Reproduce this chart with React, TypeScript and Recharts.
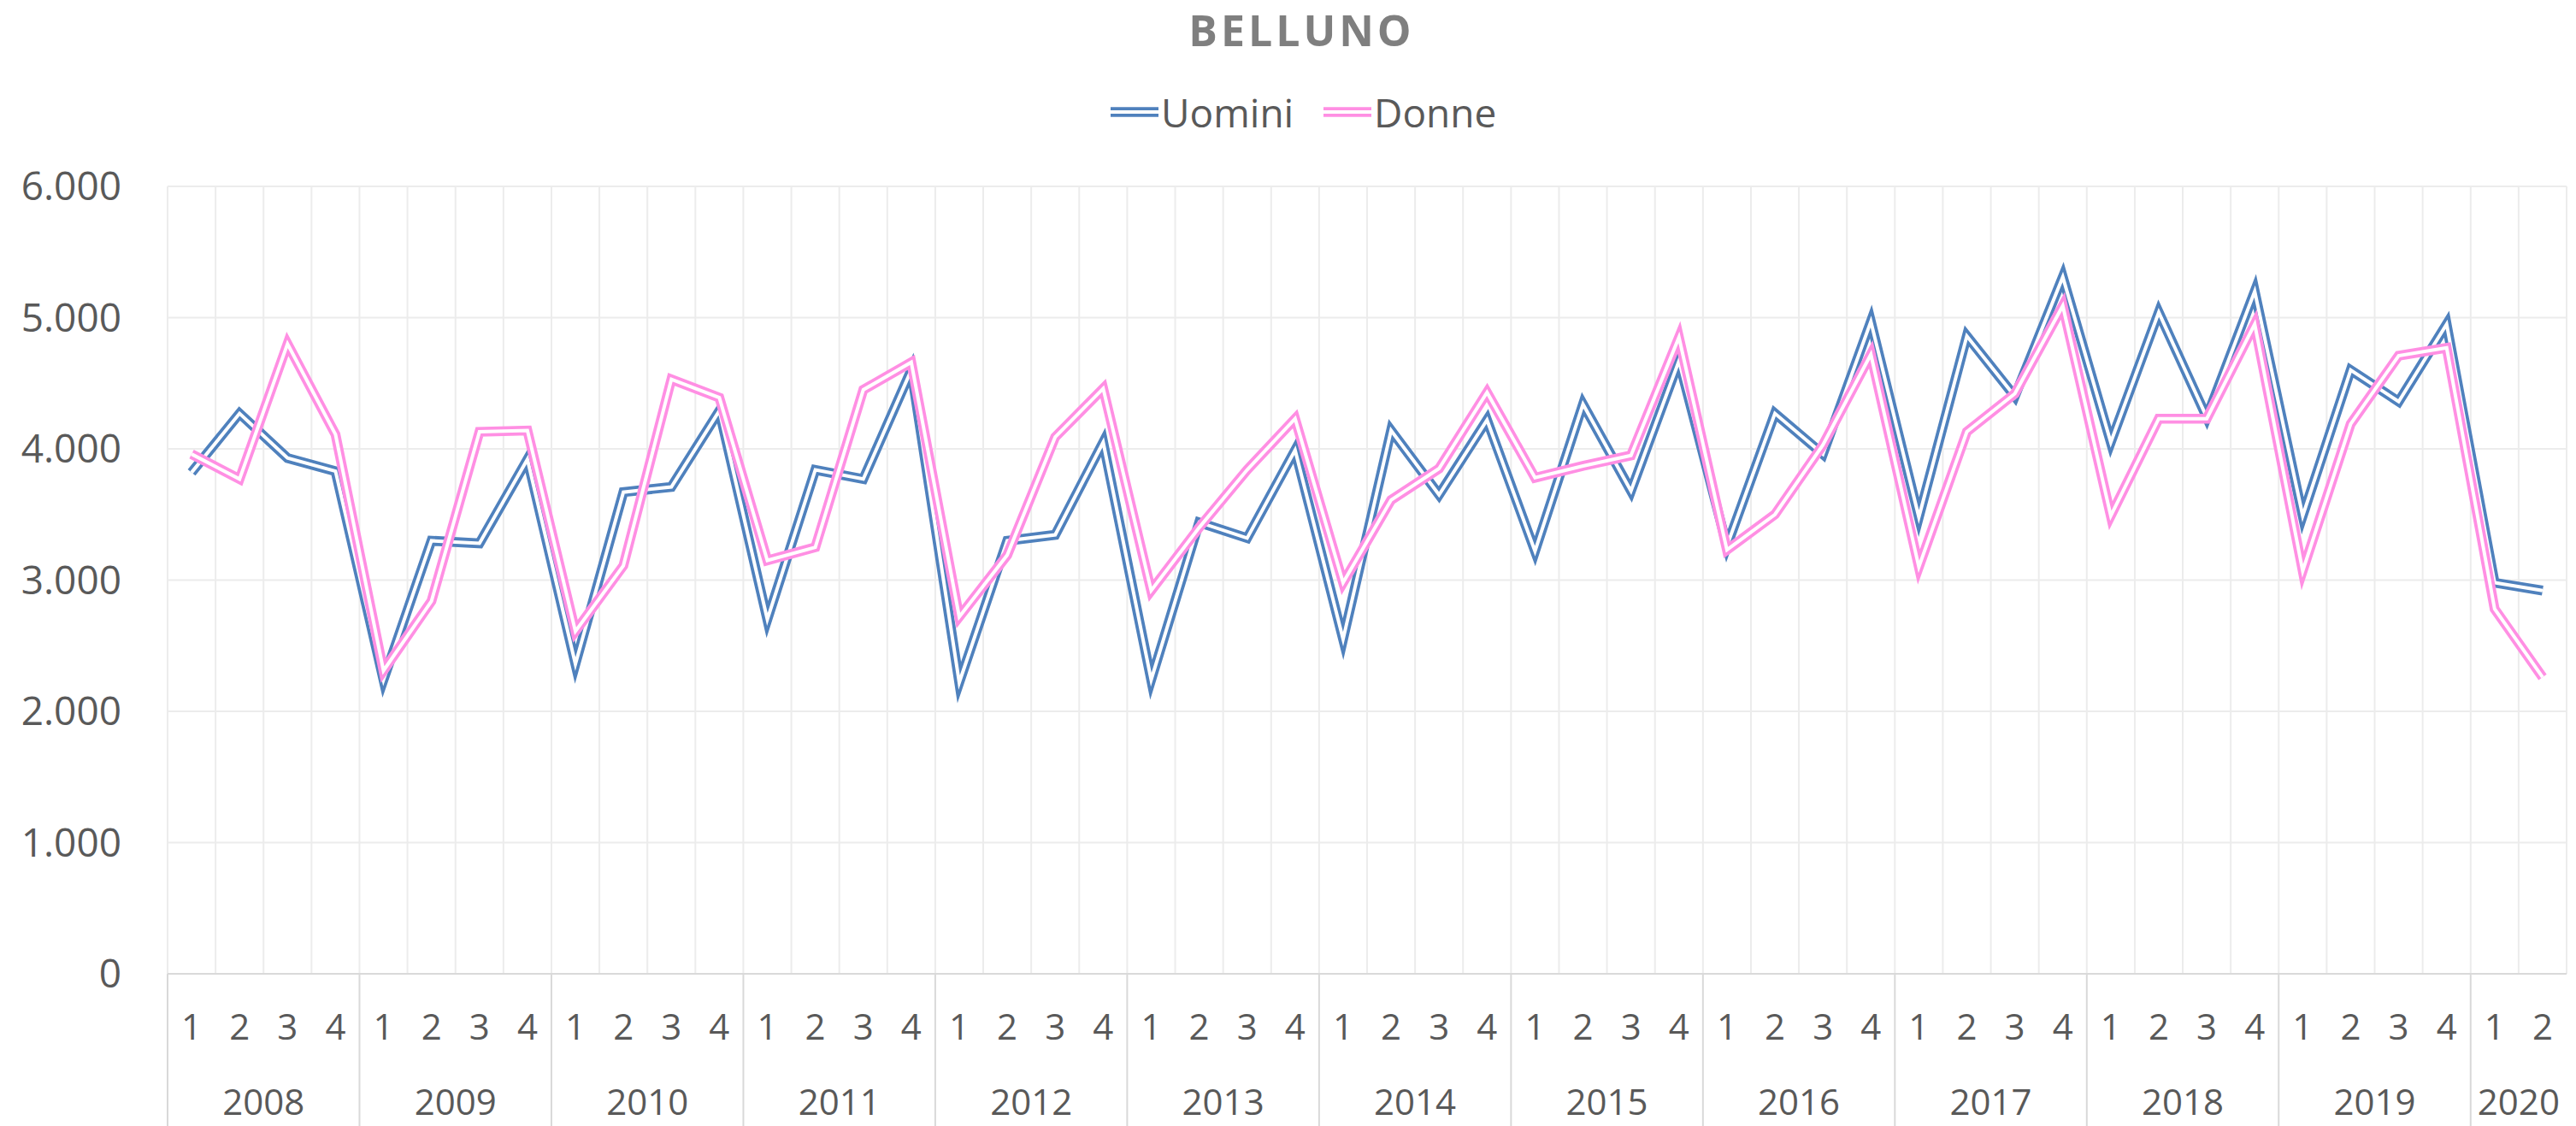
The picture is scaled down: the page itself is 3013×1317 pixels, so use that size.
import { CartesianGrid, Line, LineChart, XAxis, YAxis } from "recharts";

const W = 3013;
const H = 1317;
const PLOT_LEFT = 196;
const PLOT_RIGHT = 3002;
const PLOT_TOP = 218;
const PLOT_BOTTOM = 1139;

const BLUE = "#4f81bd";
const PINK = "#ff8fe3";
const INK = "#595959";
const GRID = "#ececec";
const SEP = "#d9d9d9";
const FONT = "'Open Sans', sans-serif";

// line doppia stile Excel: tratto largo colorato + tratto bianco al centro
const OUTER = 11.5;
const INNER = 4;

const years = ["2008", "2009", "2010", "2011", "2012", "2013", "2014", "2015", "2016", "2017", "2018", "2019", "2020"];
const quartersPerYear = [4, 4, 4, 4, 4, 4, 4, 4, 4, 4, 4, 4, 2];

const uomini = [
  3820, 4270, 3930, 3830, 2240, 3300, 3280, 3920, 2360, 3670, 3710, 4290, 2700, 3840, 3770, 4600,
  2220, 3300, 3345, 4050, 2240, 3440, 3320, 3990, 2550, 4140, 3650, 4220, 3220, 4340, 3680, 4670,
  3260, 4270, 3960, 4970, 3480, 4860, 4400, 5310, 4050, 5040, 4240, 5200, 3490, 4600, 4360, 4950,
  2980, 2920,
];
const donne = [
  3960, 3770, 4800, 4110, 2310, 2840, 4130, 4140, 2610, 3110, 4530, 4390, 3150, 3250, 4450, 4660,
  2720, 3190, 4090, 4460, 2920, 3400, 3840, 4230, 2980, 3610, 3850, 4430, 3780, 3870, 3950, 4850,
  3230, 3500, 4030, 4720, 3100, 4130, 4420, 5090, 3490, 4230, 4230, 4950, 3070, 4190, 4710, 4770,
  2780, 2260,
];
const yTicks = [0, 1000, 2000, 3000, 4000, 5000, 6000];

const data = years.flatMap((year, yi) =>
  Array.from({ length: quartersPerYear[yi] }, (_, q) => ({ key: `${year}-${q + 1}` }))
).map((d, i) => ({ ...d, uomini: uomini[i], donne: donne[i] }));

const STEP = (PLOT_RIGHT - PLOT_LEFT) / data.length;

function fmt(v: number) {
  return String(v).replace(/\B(?=(\d{3})+(?!\d))/g, ".");
}

function CategoryTick({ x, y, payload }: { x: number; y: number; payload: { value: string } }) {
  const [year, q] = payload.value.split("-");
  const n = quartersPerYear[years.indexOf(year)];
  const left = x - STEP / 2;
  return (
    <g>
      <text x={x} y={y + 77} textAnchor="middle" fill={INK} fontSize={42} fontFamily={FONT}>
        {q}
      </text>
      {q === "1" && (
        <>
          <line x1={left} x2={left} y1={y} y2={H} stroke={SEP} strokeWidth={2} />
          <text x={left + (n * STEP) / 2} y={y + 165} textAnchor="middle" fill={INK} fontSize={42} fontFamily={FONT}>
            {year}
          </text>
        </>
      )}
    </g>
  );
}

function LegendIcon({ color }: { color: string }) {
  return (
    <svg width={56} height={20} style={{ display: "block" }}>
      <line x1={0} x2={56} y1={10} y2={10} stroke={color} strokeWidth={OUTER} />
      <line x1={0} x2={56} y1={10} y2={10} stroke="#fff" strokeWidth={INNER} />
    </svg>
  );
}

const legendItems = [
  { label: "Uomini", color: BLUE, left: 1299 },
  { label: "Donne", color: PINK, left: 1548 },
];

export default function App() {
  const lineProps = {
    type: "linear" as const,
    dot: false,
    activeDot: false,
    isAnimationActive: false,
    strokeLinejoin: "miter" as const,
    strokeMiterlimit: 30,
  };

  return (
    <div style={{ position: "absolute", left: 0, top: 0, width: W, height: H, background: "#fff", fontFamily: FONT }}>
      <div
        style={{
          position: "absolute",
          top: 0,
          left: 16,
          width: W,
          textAlign: "center",
          lineHeight: "70px",
          fontSize: 50,
          fontWeight: 700,
          letterSpacing: 4,
          color: "#7f7f7f",
        }}
      >
        BELLUNO
      </div>

      {legendItems.map((it) => (
        <div
          key={it.label}
          style={{
            position: "absolute",
            top: 101,
            left: it.left,
            height: 60,
            display: "flex",
            alignItems: "center",
            gap: 3,
            fontSize: 46,
            color: INK,
          }}
        >
          <LegendIcon color={it.color} />
          <span style={{ lineHeight: "60px" }}>{it.label}</span>
        </div>
      ))}

      <div style={{ position: "absolute", left: 0, top: 0 }}>
        <LineChart
          width={W}
          height={H}
          data={data}
          margin={{ top: PLOT_TOP, right: W - PLOT_RIGHT, bottom: 0, left: 0 }}
        >
          <CartesianGrid
            stroke={GRID}
            strokeWidth={2}
            verticalCoordinatesGenerator={({ offset }: any) =>
              Array.from({ length: data.length + 1 }, (_, i) => offset.left + (i * offset.width) / data.length)
            }
          />
          <XAxis
            dataKey="key"
            interval={0}
            padding={{ left: STEP / 2, right: STEP / 2 }}
            height={H - PLOT_BOTTOM}
            tickSize={0}
            tickMargin={0}
            tickLine={false}
            axisLine={{ stroke: SEP, strokeWidth: 2 }}
            tick={(p: any) => <CategoryTick {...p} />}
          />
          <YAxis
            width={PLOT_LEFT}
            domain={[0, 6000]}
            ticks={yTicks}
            tickFormatter={fmt}
            axisLine={false}
            tickLine={false}
            tickSize={0}
            tickMargin={54}
            tick={{ fill: INK, fontSize: 46, fontFamily: FONT }}
          />
          <Line dataKey="uomini" stroke={BLUE} strokeWidth={OUTER} {...lineProps} />
          <Line dataKey="uomini" stroke="#fff" strokeWidth={INNER} {...lineProps} />
          <Line dataKey="donne" stroke={PINK} strokeWidth={OUTER} {...lineProps} />
          <Line dataKey="donne" stroke="#fff" strokeWidth={INNER} {...lineProps} />
        </LineChart>
      </div>
    </div>
  );
}
